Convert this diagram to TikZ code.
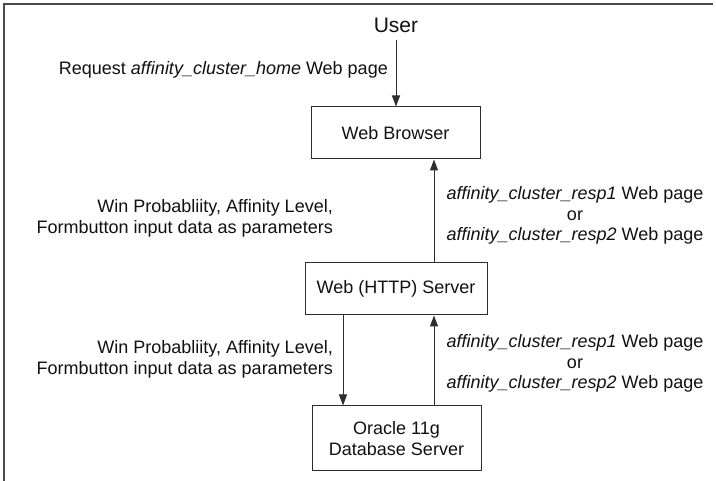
\documentclass[tikz,border=0pt]{standalone}
\usepackage{fontspec}
\setmainfont{Liberation Sans}
\usetikzlibrary{arrows.meta}
\definecolor{linec}{HTML}{2E2E2E}
\definecolor{framec}{HTML}{4A4A4A}
\definecolor{txt}{HTML}{111111}
\begin{document}
\begin{tikzpicture}[x=1pt,y=-1pt,
  box/.style={draw=linec, line width=1pt, inner sep=0pt, text=txt,
    font=\fontsize{18}{20.5}\selectfont, align=center},
  lbl/.style={inner sep=0pt, text=txt, font=\fontsize{18}{20.5}\selectfont},
  titlelbl/.style={inner xsep=0pt, inner ysep=7pt, text=txt, font=\fontsize{21}{25}\selectfont},
  arr/.style={draw=linec, line width=1pt, -{Triangle[length=11pt,width=8pt]}},
  framel/.style={draw=framec, line width=1.4pt}]
\useasboundingbox (0,0) rectangle (716,481);
\fill[white] (0,0) rectangle (716,481);
\draw[framel] (4,481) -- (4,4) -- (713,4);

% nodes
\node[titlelbl, anchor=base] (user) at (396,32.7) {User};
\node[box, minimum width=169pt, minimum height=52pt] (wb) at (395.5,133) {Web Browser};
\node[box, minimum width=182pt, minimum height=52pt] (http) at (396,289) {Web (HTTP) Server};
\node[box, minimum width=169pt, minimum height=65pt] (db) at (396.5,438.5) {Oracle 11g\\Database Server};

% connector x positions
\coordinate (xr) at (434,0);
\coordinate (xl) at (343,0);

% connectors
\draw[arr] (user.south) -- (user.south |- wb.north);
\draw[arr] (http.north -| xr) -- (wb.south -| xr);
\draw[arr] (http.south -| xl) -- (db.north -| xl);
\draw[arr] (db.north -| xr) -- (http.south -| xr);

% labels
\node[lbl, anchor=base east] (req) at (388,74.5) {Request \textit{affinity\_cluster\_home} Web page};
\node[lbl, align=right, anchor=east] (p1) at (333,218.3) {Win Probabliity, Affinity Level,\\Formbutton input data as parameters};
\node[lbl, align=center] (r1) at (575,215.8) {\textit{affinity\_cluster\_resp1} Web page\\or\\\textit{affinity\_cluster\_resp2} Web page};
\node[lbl, align=right, anchor=east] (p2) at (333,359.3) {Win Probabliity, Affinity Level,\\Formbutton input data as parameters};
\node[lbl, align=center] (r2) at (575,363.8) {\textit{affinity\_cluster\_resp1} Web page\\or\\\textit{affinity\_cluster\_resp2} Web page};
\end{tikzpicture}
\end{document}
